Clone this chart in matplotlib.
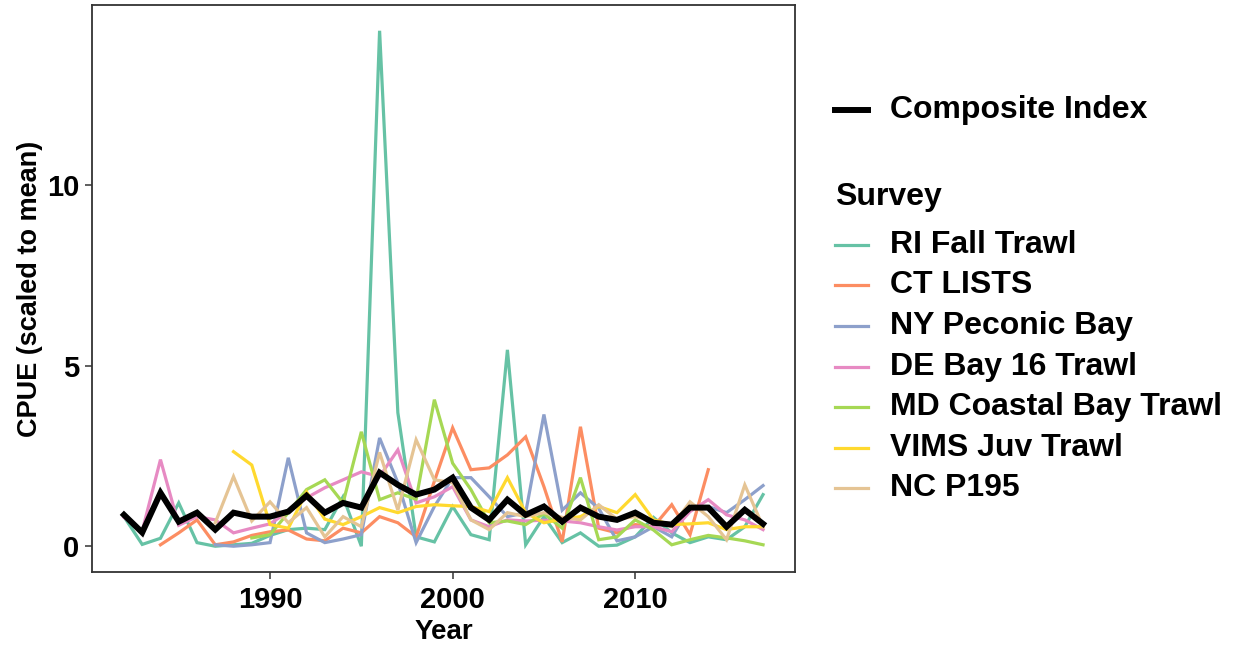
import matplotlib
matplotlib.use('Agg')
import matplotlib.pyplot as plt
from matplotlib.lines import Line2D
import numpy as np

plt.rcParams['font.family'] = ['Liberation Sans', 'DejaVu Sans']
plt.rcParams['font.weight'] = 'bold'

# survey years per series
YEARS_ALL = list(range(1982, 2018))
YEARS_CT = list(range(1984, 2015))
YEARS_NY = list(range(1987, 2018))
YEARS_MD = list(range(1989, 2018))
YEARS_VIMS = list(range(1988, 2018))
YEARS_NC = list(range(1987, 2018))

RI_FALL = [0.82, 0.05, 0.22, 1.20, 0.10, 0.00, 0.04, 0.08, 0.30, 0.46, 0.50, 0.46,
           1.37, 0.00, 14.28, 3.70, 0.26, 0.12, 1.10, 0.32, 0.18, 5.44, 0.04, 0.82,
           0.10, 0.37, 0.00, 0.03, 0.26, 0.80, 0.37, 0.10, 0.26, 0.18, 0.54, 1.43]
CT_LISTS = [0.04, 0.37, 0.73, 0.04, 0.12, 0.30, 0.40, 0.45, 0.20, 0.15,
            0.50, 0.37, 0.82, 0.65, 0.26, 1.80, 3.28, 2.12, 2.17, 2.53, 3.03, 1.65,
            0.12, 3.31, 0.50, 0.37, 0.60, 0.54, 1.15, 0.32, 2.12]
NY_PECONIC = [0.04, 0.00, 0.04, 0.10, 2.45, 0.37, 0.10, 0.20, 0.32, 3.00, 1.76,
              0.10, 1.10, 1.90, 1.90, 1.37, 0.82, 0.93, 3.65, 1.00, 1.48, 1.05,
              0.15, 0.26, 0.54, 0.26, 1.10, 1.10, 0.93, 1.29, 1.68]
DE_BAY = [0.80, 0.42, 2.40, 0.58, 0.82, 0.73, 0.37, 0.50, 0.62, 0.96, 1.34, 1.62,
          1.84, 2.06, 1.93, 2.67, 1.20, 1.37, 1.65, 0.73, 0.54, 0.73, 0.70, 0.72,
          0.70, 0.65, 0.54, 0.45, 0.54, 0.54, 0.40, 0.96, 1.29, 0.87, 0.73, 0.46]
MD_COASTAL = [0.23, 0.32, 0.93, 1.57, 1.84, 1.20, 3.17, 1.29, 1.48, 1.30, 4.06,
              2.30, 1.57, 0.65, 0.70, 0.60, 0.90, 0.50, 1.90, 0.18, 0.26, 0.73,
              0.45, 0.04, 0.18, 0.30, 0.23, 0.15, 0.04]
VIMS_JUV = [2.62, 2.25, 0.60, 0.50, 1.50, 0.75, 0.60, 0.82, 1.07, 0.93, 1.10,
            1.15, 1.12, 1.10, 0.96, 1.90, 0.93, 0.65, 0.75, 0.82, 1.10, 0.93,
            1.43, 0.73, 0.60, 0.62, 0.65, 0.46, 0.54, 0.54]
NC_P195 = [0.65, 1.93, 0.70, 1.23, 0.65, 1.07, 0.26, 0.82, 0.54, 2.60, 1.00,
           2.95, 1.84, 1.76, 0.73, 0.46, 0.93, 0.82, 0.93, 0.80, 0.73, 1.15, 0.75,
           0.82, 0.70, 0.54, 1.23, 0.82, 0.18, 1.70, 0.54]
COMPOSITE = [0.87, 0.38, 1.48, 0.68, 0.93, 0.46, 0.93, 0.82, 0.82, 0.96, 1.40,
             0.93, 1.20, 1.07, 2.04, 1.70, 1.43, 1.57, 1.90, 1.07, 0.73, 1.29,
             0.87, 1.10, 0.68, 1.07, 0.82, 0.73, 0.93, 0.65, 0.60, 1.07, 1.07,
             0.54, 1.01, 0.62]

SURVEY_NAMES = ['RI Fall Trawl', 'CT LISTS', 'NY Peconic Bay', 'DE Bay 16 Trawl',
                'MD Coastal Bay Trawl', 'VIMS Juv Trawl', 'NC P195']
SURVEY_YEARS = [YEARS_ALL, YEARS_CT, YEARS_NY, YEARS_ALL, YEARS_MD, YEARS_VIMS, YEARS_NC]
SURVEY_VALUES = [RI_FALL, CT_LISTS, NY_PECONIC, DE_BAY, MD_COASTAL, VIMS_JUV, NC_P195]
SET2 = ['#66c2a5', '#fc8d62', '#8da0cb', '#e78ac3', '#a6d854', '#ffd92f', '#e5c494']

fig = plt.figure(figsize=(12.38, 6.49), dpi=100, facecolor='white')
ax = fig.add_axes([92 / 1238, 1 - 572 / 649, (795 - 92) / 1238, (572 - 5) / 649])

for yrs, vals, col in zip(SURVEY_YEARS, SURVEY_VALUES, SET2):
    ax.plot(yrs, vals, color=col, lw=2.3, solid_joinstyle='miter')
ax.plot(YEARS_ALL, COMPOSITE, color='black', lw=4.3, solid_joinstyle='miter')

span = 2017 - 1982
ax.set_xlim(1982 - 0.05 * span, 2017 + 0.05 * span)
ymax = max(RI_FALL)
ax.set_ylim(-0.05 * ymax, ymax * 1.05)
ax.set_xticks([1990, 2000, 2010])
ax.set_yticks([0, 5, 10])
ax.tick_params(direction='out', length=5, width=1.1, color='#333333',
               labelsize=21, labelcolor='black')
ax.tick_params(axis='x', pad=5)
ax.tick_params(axis='y', pad=4)
for lab in ax.get_xticklabels() + ax.get_yticklabels():
    lab.set_fontweight('bold')
for sp in ax.spines.values():
    sp.set_color('#333333')
    sp.set_linewidth(1.3)

ax.set_xlabel('Year', fontsize=20, fontweight='bold', labelpad=4)
ax.set_ylabel('CPUE (scaled to mean)', fontsize=19.5, fontweight='bold', labelpad=3)

# legend drawn in figure pixel coordinates
H = 649.0
W = 1238.0


def key_line(y, color, lw):
    fig.add_artist(Line2D([835 / W, 868 / W], [1 - y / H, 1 - y / H],
                          color=color, lw=lw, transform=fig.transFigure))


key_line(110, 'black', 4.3)
fig.text(890 / W, 1 - 110 / H, 'Composite Index', fontsize=23, fontweight='bold',
         va='center', ha='left')
fig.text(835 / W, 1 - 197 / H, 'Survey', fontsize=23, fontweight='bold',
         va='center', ha='left')
for i, (name, col) in enumerate(zip(SURVEY_NAMES, SET2)):
    y = 245 + i * 40.5
    key_line(y, col, 2.3)
    fig.text(890 / W, 1 - y / H, name, fontsize=23, fontweight='bold',
             va='center', ha='left')

fig.savefig('out.png', dpi=100, facecolor='white')
